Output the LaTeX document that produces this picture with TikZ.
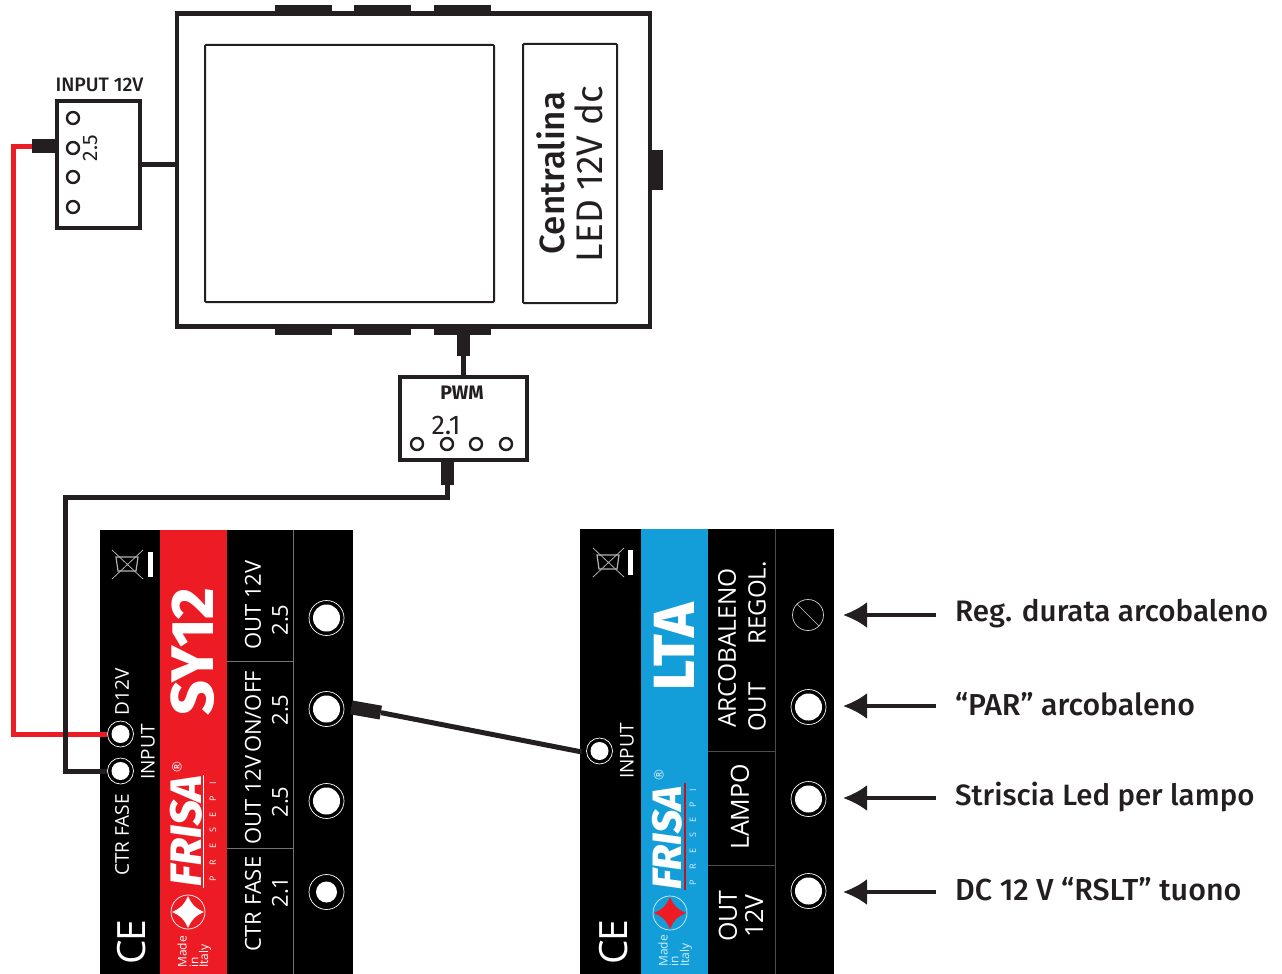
\documentclass[tikz,border=0pt]{standalone}
\usepackage{fontspec}
\setmainfont{Fira Sans}
\newfontfamily\panelfont{Open Sans}
\newfontfamily\medfont{Fira Sans Medium}
\newfontfamily\heavyfont{Fira Sans ExtraBold}[ItalicFont={Fira Sans ExtraBold Italic}]
\usetikzlibrary{arrows.meta}
\definecolor{ink}{HTML}{231F20}
\definecolor{frisared}{HTML}{ED1C24}
\definecolor{frisablue}{HTML}{149ED9}
\definecolor{ltext}{HTML}{D5EEF9}
\newcommand{\fs}[1]{\fontsize{#1}{#1}\selectfont}
\tikzset{
 x=1pt,y=-1pt,
 wire/.style={draw=ink,line width=5pt},
 redwire/.style={draw=frisared,line width=5pt},
 pin/.style={circle,draw=ink,line width=2.4pt,fill=white,minimum size=12pt,inner sep=0pt},
 hole/.style={circle,fill=white,draw=none,inner sep=0pt,minimum size=#1},
 ring/.style={circle,draw=white,line width=.7pt,inner sep=0pt,minimum size=#1},
 rtext/.style={rotate=90,text=white,inner sep=0pt,font=\panelfont\fs{#1}},
 note/.style={anchor=base west,inner sep=0pt,font=\medfont\fs{#1},text=ink},
 point/.style={draw=ink,line width=3.5pt,-{Latex[length=24pt,width=26pt]}},
}
\begin{document}
\begin{tikzpicture}
\useasboundingbox (0,0) rectangle (1282,974);
% main unit
\foreach \a in {275,354,434}{
 \fill[ink] (\a,5) rectangle (\a+57,14);
 \fill[ink] (\a,326) rectangle (\a+57,335);
}
\fill[ink] (650,150) rectangle (663,190);
\node[draw=ink,line width=4.5pt,minimum width=473pt,minimum height=313pt,inner sep=0pt] (unit) at (413.5,170) {};
\node[draw=ink,line width=2pt,minimum width=289pt,minimum height=257pt,rounded corners=1pt,inner sep=0pt] (screen) at (349.5,173.5) {};
\node[draw=ink,line width=2pt,minimum width=94pt,minimum height=259pt,rounded corners=1pt,inner sep=0pt] (label) at (570,173.5) {};
\node[rotate=90,inner sep=0pt,text=ink,font=\medfont\fs{35}] (cname) at (551,173) {Centralina};
\node[rotate=90,inner sep=0pt,text=ink,font=\fs{37}] (cvolt) at (589,174) {LED 12V dc};
% input box
\node[draw=ink,line width=3.5pt,minimum width=83pt,minimum height=127pt,inner sep=0pt] (inbox) at (98.5,164.5) {};
\node[inner sep=0pt,text=ink,font=\medfont\fs{19.5}] (intitle) at (99.5,85) {INPUT 12V};
\foreach \n/\y in {a/118,b/148,c/177,d/207}{\node[pin] (in\n) at (73,\y) {};}
\node[rotate=90,inner sep=0pt,text=ink,font=\fs{21}] (inval) at (90,148) {2.5};
\node[fill=ink,minimum width=25pt,minimum height=14pt,inner sep=0pt] (redplug) at (44.5,146) {};
\draw[wire] (inbox.east) -- (inbox.east -| unit.west);
% pwm box
\node[draw=ink,line width=3.5pt,minimum width=127pt,minimum height=83pt,inner sep=0pt] (pwm) at (463.5,418.5) {};
\node[inner sep=0pt,text=ink,font=\bfseries\fs{19.5}] (pwmt) at (462,393) {PWM};
\node[inner sep=0pt,text=ink,font=\fs{27}] (pwmv) at (446,425) {2.1};
\foreach \n/\x in {a/417,b/447,c/476,d/506}{\node[pin] (pw\n) at (\x,444) {};}
\node[fill=ink,minimum width=13pt,minimum height=22pt,inner sep=0pt] (pwtop) at (463.5,345) {};
\node[fill=ink,minimum width=13pt,minimum height=25pt,inner sep=0pt] (pwbot) at (447.5,472.5) {};
\draw[wire] (pwtop.south) -- (pwtop.south |- pwm.north);
% SY12 panel
\fill[black] (100,530) rectangle (353,974);
\fill[frisared] (159.5,530) rectangle (227,974);
\draw[white!45!black,line width=.7pt] (293.5,530) -- (293.5,974) (227,661) -- (293.5,661) (227,848) -- (293.5,848);
% weee
\draw[white!70!black,line width=.8pt] (112,550) -- (143,579) (143,550) -- (112,579);
\draw[white!70!black,line width=1.2pt] (116,557) -- (118,571) -- (136,571) -- (138,557) -- cycle;
\fill[white] (148,552) rectangle (153,577);
\node[rtext=39] (syce) at (132,942) {C\hspace{-1pt}E};
\node[rtext=19] (syctr) at (122,835) {CTR FASE};
\node[rtext=19] (syd) at (122,692) {D12V};
\node[rtext=19] (syinp) at (148,752) {INPUT};
\node[hole=18pt] (d12) at (120.5,734) {};
\node[ring=26pt] (d12r) at (120.5,734) {};
\node[hole=18pt] (ctr) at (120.5,771) {};
\node[ring=26pt] (ctrr) at (120.5,771) {};
\node[rotate=90,text=white,inner sep=0pt,font=\heavyfont\fs{60}] (syname) at (193,652) {SY12};
\node[rotate=90,text=white,inner sep=0pt,font=\heavyfont\itshape\fs{44}] (syfrisa) at (186,831) {FRISA};
\node[rtext=13] (syreg) at (177,767) {®};
\draw[white,line width=.8pt] (203,775) -- (203,888);
\node[rtext=9] (sypres) at (213,832) {P\hspace{11pt}R\hspace{11pt}E\hspace{11pt}S\hspace{11pt}E\hspace{11pt}P\hspace{11pt}I};
\node[ring=34pt,draw=white] (sylogo) at (188,912) {};
\fill[white] (188,896) .. controls (192,905) and (195,908) .. (204,912) .. controls (195,916) and (192,919) .. (188,928) .. controls (184,919) and (181,916) .. (172,912) .. controls (181,908) and (184,905) .. (188,896) -- cycle;
\node[rtext=12,anchor=west] (sym) at (182,968) {Made};
\node[rtext=12,anchor=west] (syi) at (194,968) {in};
\node[rtext=12,anchor=west] (syl) at (205,968) {Italy};
\node[rtext=22] (s1) at (253,605) {OUT 12V};
\node[rtext=22] (s2) at (280,620) {2.5};
\node[rtext=22] (s3) at (253,712) {ON/OFF};
\node[rtext=22] (s4) at (280,710) {2.5};
\node[rtext=22] (s5) at (253,800) {OUT 12V};
\node[rtext=22] (s6) at (280,802) {2.5};
\node[rtext=22] (s7) at (253,904) {CTR FASE};
\node[rtext=22] (s8) at (280,892) {2.1};
\foreach \n/\y/\d in {a/618/27,b/709/27,c/801/27,d/892/21}{
 \node[hole=\d pt] (out\n) at (326.5,\y) {};
 \node[ring=35pt] (outr\n) at (326.5,\y) {};
}
% LTA panel
\fill[black] (580,529) rectangle (834,974);
\fill[frisablue] (641,529) rectangle (708,974);
\draw[white!30!black,line width=.8pt] (775.5,529) -- (775.5,974) (708,751) -- (775.5,751) (708,865) -- (775.5,865);
\draw[white!70!black,line width=.8pt] (593,548) -- (624,577) (624,548) -- (593,577);
\draw[white!70!black,line width=1.2pt] (597,555) -- (599,569) -- (617,569) -- (619,555) -- cycle;
\fill[white] (628,550) rectangle (633,575);
\node[rtext=39] (ltce) at (614,942) {C\hspace{-1pt}E};
\node[rtext=19] (ltinp) at (627,751) {INPUT};
\node[hole=18pt] (ltin) at (599.5,751) {};
\node[ring=26pt] (ltinr) at (599.5,751) {};
\node[rotate=90,text=white,inner sep=0pt,font=\heavyfont\fs{58}] (ltname) at (674,647) {LTA};
\node[rotate=90,text=white,inner sep=0pt,font=\heavyfont\itshape\fs{41}] (ltfrisa) at (667,838) {FRISA};
\node[rotate=90,text=ltext,inner sep=0pt,font=\panelfont\fs{13}] (ltreg) at (659,775) {®};
\draw[frisared!80!black,line width=1.2pt] (685,783) -- (685,890);
\node[rotate=90,text=ltext,inner sep=0pt,font=\panelfont\fs{9}] (ltpres) at (693,837) {P\hspace{10.5pt}R\hspace{10.5pt}E\hspace{10.5pt}S\hspace{10.5pt}E\hspace{10.5pt}P\hspace{10.5pt}I};
\node[ring=34pt,draw=ltext,fill=frisablue] (ltlogo) at (670,913) {};
\fill[frisared] (670,897) .. controls (674,906) and (677,909) .. (686,913) .. controls (677,917) and (674,920) .. (670,929) .. controls (666,920) and (663,917) .. (654,913) .. controls (663,909) and (666,906) .. (670,897) -- cycle;
\node[rotate=90,anchor=west,text=ltext,inner sep=0pt,font=\panelfont\fs{12}] (ltm) at (663,967) {Made};
\node[rotate=90,anchor=west,text=ltext,inner sep=0pt,font=\panelfont\fs{12}] (lti) at (674,967) {in};
\node[rotate=90,anchor=west,text=ltext,inner sep=0pt,font=\panelfont\fs{12}] (ltl) at (686,967) {Italy};
\node[rtext=24.5] (t1) at (727,648) {ARCOBALENO};
\node[rtext=24] (t2) at (757,603) {REGOL.};
\node[rtext=24] (t3) at (757,707) {OUT};
\node[rtext=25] (t4) at (740,807) {LAMPO};
\node[rtext=25] (t5) at (728,916) {OUT};
\node[rtext=25] (t6) at (754,916) {12V};
\node[circle,draw=white!80!black,line width=.7pt,minimum size=31pt,inner sep=0pt] (screw) at (808,615) {};
\draw[white!80!black,line width=.7pt] (screw.135) -- (screw.-45);
\foreach \n/\y in {a/707,b/799,c/891}{
 \node[hole=27pt] (lo\n) at (808.5,\y) {};
 \node[ring=35pt] (lor\n) at (808.5,\y) {};
}
% wires
\coordinate (redcorner) at (13,440);
\coordinate (blkcorner) at (65,497);
\coordinate (midend) at (582,752);
\draw[redwire] (redplug.west) -| (redcorner) |- (d12r.west);
\draw[wire] (pwbot.south) |- (blkcorner) |- (ctrr.west);
\node[draw=none,fill=ink,minimum width=30pt,minimum height=14pt,inner sep=0pt,rotate=-10] (sock) at (366,710) {};
\draw[wire] (sock.east) -- (midend);
% notes
\node[note=29.6] (n1) at (955,621) {Reg. durata arcobaleno};
\node[note=30.3] (n2) at (955,715) {“PAR” arcobaleno};
\node[note=29.4] (n3) at (955,805) {Striscia Led per lampo};
\node[note=30.4] (n4) at (955,900) {DC 12 V “RSLT” tuono};
\coordinate (h1) at (843,615);\coordinate (h2) at (843,706);\coordinate (h3) at (843,798);\coordinate (h4) at (843,892);
\draw[point] (936,615) -- (h1);
\draw[point] (936,706) -- (h2);
\draw[point] (936,798) -- (h3);
\draw[point] (936,892) -- (h4);
\end{tikzpicture}
\end{document}
